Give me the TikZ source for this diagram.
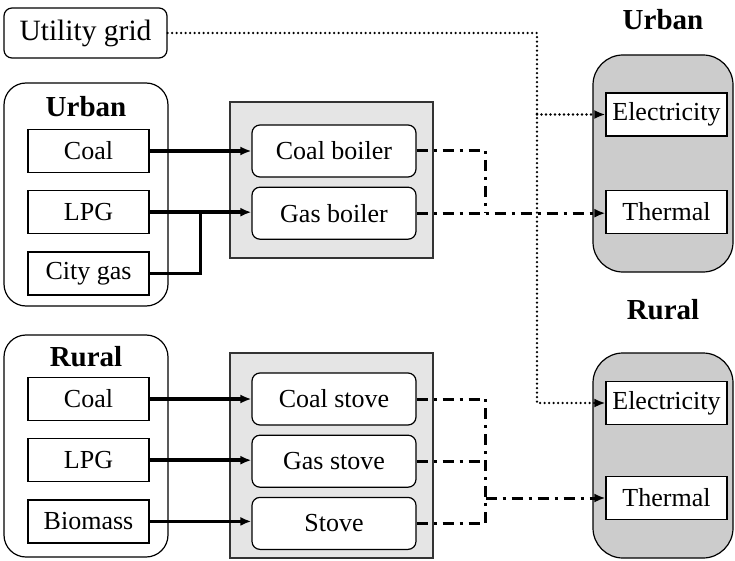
\documentclass[tikz,border=0pt]{standalone}
\usepackage{fontspec}
\setmainfont{Liberation Serif}
\usetikzlibrary{arrows.meta,positioning}

\begin{document}
\begin{tikzpicture}[x=1pt, y=-1pt, every node/.style={font=\fontsize{26}{30}\selectfont}, title/.style={font=\fontsize{29}{32}\selectfont\bfseries}, gridbox/.style={rectangle, rounded corners=8pt, draw=black, line width=1.2pt, minimum width=163pt, minimum height=50pt, inner sep=2pt, font=\fontsize{29.5}{32}\selectfont}, group/.style={rectangle, rounded corners=22pt, draw=black, line width=1.2pt}, src/.style={rectangle, draw=black, line width=1.2pt, inner sep=0pt, minimum width=121pt, minimum height=43pt}, panel/.style={rectangle, draw=black!80, line width=1.2pt, fill=black!10}, conv/.style={rectangle, rounded corners=8pt, draw=black, line width=1.2pt, fill=white, inner sep=0pt, minimum width=164pt, minimum height=52pt}, sink/.style={rectangle, rounded corners=30pt, draw=black, line width=1.2pt, fill=black!20}, use/.style={rectangle, draw=black, line width=1.2pt, fill=white, inner sep=0pt, minimum width=121pt, minimum height=43pt}, feed/.style={line width=3.5pt}, arrow/.style={-{Latex[length=11pt,width=9pt]}}, heat/.style={line width=3pt, dash pattern=on 11pt off 6pt on 3pt off 6pt}, power/.style={line width=2.6pt, line cap=round, dash pattern=on 0pt off 4.5pt}]
\useasboundingbox (0,0) rectangle (735,561);
% grid
\node[gridbox] (grid) at (85.5,33) {Utility grid};
% urban side
\node[group, minimum width=164pt, minimum height=223pt] (usrc) at (86,194.5) {};
\node[title] (utitle) at (86,107) {Urban};
\node[src] (ucoal) at (88.5,151) {Coal};
\node[src, below=17pt of ucoal] (ulpg) {LPG};
\node[src, below=17pt of ulpg] (ucity) {City gas};
\node[panel, minimum width=203pt, minimum height=156pt] (uconv) at (331.5,180) {};
\node[conv] (ucb) at (334,151) {Coal boiler};
\node[conv, below=9pt of ucb] (ugb) {Gas boiler};
\node[title] (uend title) at (663,20) {Urban};
\node[sink, minimum width=140pt, minimum height=217pt] (uend) at (663,163.5) {};
\node[use] (uel) at (666.5,114.5) {Electricity};
\node[use] (uth) at (666.5,212) {Thermal};
% rural side
\node[group, minimum width=164pt, minimum height=222pt] (rsrc) at (86,446) {};
\node[title] (rtitle) at (86,357) {Rural};
\node[src] (rcoal) at (88.5,399) {Coal};
\node[src, below=17pt of rcoal] (rlpg) {LPG};
\node[src, below=17pt of rlpg] (rbio) {Biomass};
\node[panel, minimum width=203pt, minimum height=205pt] (rconv) at (331.5,455.5) {};
\node[conv] (rcs) at (334,399) {Coal stove};
\node[conv, below=9pt of rcs] (rgs) {Gas stove};
\node[conv, below=9pt of rgs] (rst) {Stove};
\node[title] (rend title) at (663,310) {Rural};
\node[sink, minimum width=140pt, minimum height=205pt] (rend) at (663,455.5) {};
\node[use] (rel) at (666.5,403) {Electricity};
\node[use] (rth) at (666.5,498) {Thermal};
\coordinate (tap) at (537,0);
\coordinate (ubus) at ([xshift=69pt]ucb.east);
\coordinate (rbus) at ([xshift=69pt]rcs.east);
% fuels
\draw[feed, arrow] (ucoal.east) -- (ucoal.east -| ucb.west);
\draw[feed, arrow] (ulpg.east) -- (ulpg.east -| ugb.west);
\draw[feed] (ucity.east) -| ([xshift=51pt]ulpg.east);
\draw[feed, arrow] (rcoal.east) -- (rcoal.east -| rcs.west);
\draw[feed, arrow] (rlpg.east) -- (rlpg.east -| rgs.west);
\draw[feed, arrow] (rbio.east) -- (rbio.east -| rst.west);
% heat
\draw[heat] (ucb.east) -| (ubus |- ugb.east);
\draw[heat, arrow] (ugb.east) -- (ugb.east -| uth.west);
\draw[heat] (rcs.east) -| (rbus |- rst.east);
\draw[heat] (rgs.east) -- (rbus |- rgs.east);
\draw[heat] (rst.east) -- (rbus |- rst.east);
\draw[heat, arrow] (rbus |- rth.west) -- (rth.west);
% electricity
\draw[power, arrow] (grid.east) -| (tap |- rel.west) -- (rel.west);
\draw[power, arrow] (tap |- uel.west) -- (uel.west);
\end{tikzpicture}
\end{document}
